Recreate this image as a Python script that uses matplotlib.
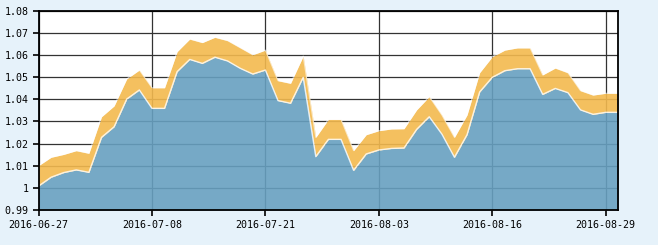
import pandas as pd
import matplotlib
matplotlib.use("Agg")
import matplotlib.pyplot as plt

# trading days 2016-06-27 .. 2016-08-30
dates = pd.bdate_range("2016-06-27", "2016-08-30")

upper = [1.0100, 1.0138, 1.0151, 1.0168, 1.0156, 1.0321, 1.0370, 1.0492, 1.0532, 1.0452,
         1.0452, 1.0615, 1.0672, 1.0656, 1.0680, 1.0665, 1.0633, 1.0601, 1.0622, 1.0484,
         1.0472, 1.0595, 1.0228, 1.0309, 1.0309, 1.0168, 1.0240, 1.0258, 1.0266, 1.0267,
         1.0352, 1.0412, 1.0329, 1.0228, 1.0329, 1.0520, 1.0592, 1.0622, 1.0632, 1.0632,
         1.0510, 1.0541, 1.0520, 1.0439, 1.0419, 1.0427, 1.0427]
lower = [1.0008, 1.0048, 1.0069, 1.0081, 1.0070, 1.0228, 1.0276, 1.0401, 1.0442, 1.0359,
         1.0359, 1.0525, 1.0580, 1.0562, 1.0590, 1.0573, 1.0540, 1.0514, 1.0532, 1.0394,
         1.0382, 1.0499, 1.0141, 1.0219, 1.0219, 1.0079, 1.0153, 1.0171, 1.0178, 1.0180,
         1.0264, 1.0321, 1.0243, 1.0138, 1.0240, 1.0433, 1.0499, 1.0529, 1.0538, 1.0538,
         1.0422, 1.0449, 1.0430, 1.0352, 1.0332, 1.0341, 1.0341]

yticks = [0.99, 1.00, 1.01, 1.02, 1.03, 1.04, 1.05, 1.06, 1.07, 1.08]
ylabels = ["0.99", "1", "1.01", "1.02", "1.03", "1.04", "1.05", "1.06", "1.07", "1.08"]

x = list(range(len(dates)))
xticks = x[::9]
xlabels = [dates[i].strftime("%Y-%m-%d") for i in xticks]

fig = plt.figure(figsize=(6.58, 2.45), dpi=100, facecolor="#e6f2fa")
ax = fig.add_axes([38.5 / 658, 35 / 245, 579.8 / 658, 199.3 / 245])
ax.set_facecolor("white")

ax.grid(True, color="#333333", linewidth=0.9, zorder=0)
ax.set_axisbelow(True)

ax.fill_between(x, 0.99, lower, color="#67a0c0", alpha=0.9, linewidth=0, zorder=2)
ax.fill_between(x, lower, upper, color="#f3b94e", alpha=0.9, linewidth=0, zorder=2)
ax.plot(x, lower, color="white", linewidth=1.0, alpha=0.8, zorder=3)
ax.plot(x, upper, color="white", linewidth=0.8, alpha=0.6, zorder=3)

ax.set_xlim(0, len(x) - 1)
ax.set_ylim(0.99, 1.08)
ax.set_yticks(yticks)
ax.set_yticklabels(ylabels)
ax.set_xticks(xticks)
ax.set_xticklabels(xlabels)

for s in ax.spines.values():
    s.set_color("black")
    s.set_linewidth(1.3)
    s.set_zorder(5)

ax.tick_params(axis="both", direction="out", length=4, width=1.2, color="black",
               labelsize=7.2, pad=3)
for lab in ax.get_xticklabels() + ax.get_yticklabels():
    lab.set_family("DejaVu Sans Mono")

fig.savefig("out.png", dpi=100, facecolor=fig.get_facecolor())
